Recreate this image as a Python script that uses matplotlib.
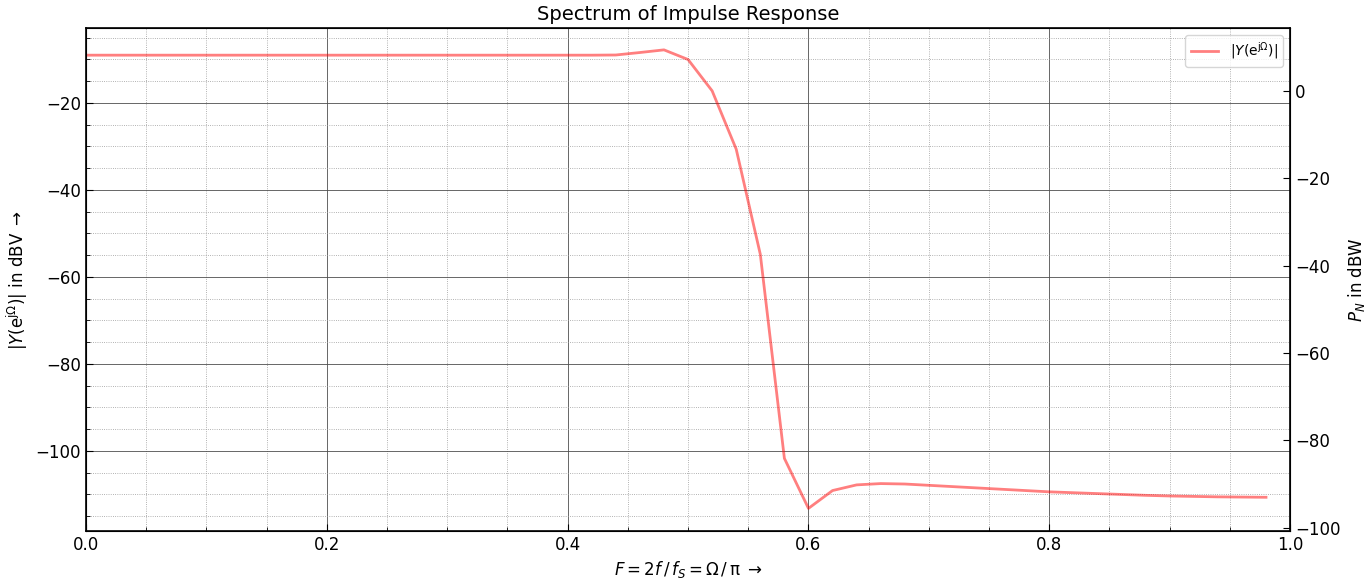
import numpy as np
import matplotlib.pyplot as plt
from matplotlib.ticker import MultipleLocator

# normalized frequency F = 2f/fs
freq = np.arange(0, 1.0, 0.02)

# magnitude in dBV
mag_db = [
    -9.04, -9.04, -9.04, -9.04, -9.04, -9.04, -9.04, -9.04, -9.04, -9.04,
    -9.04, -9.04, -9.04, -9.04, -9.04, -9.04, -9.04, -9.04, -9.04, -9.04,
    -9.04, -9.04, -9.0, -8.43, -7.82, -10.04, -17.24, -30.65, -54.8, -101.7,
    -113.2, -109.1, -107.8, -107.5, -107.6, -107.9, -108.2, -108.5, -108.8, -109.1,
    -109.4, -109.6, -109.8, -110.0, -110.2, -110.35, -110.45, -110.55, -110.6, -110.65,
]

left_ticks = [-20, -40, -60, -80, -100]
right_ticks = [0, -20, -40, -60, -80, -100]

fig = plt.figure(figsize=(13.72, 5.85), dpi=100)
ax = fig.add_axes([0.0627, 0.0923, 0.8776, 0.8598])

ax.plot(freq, mag_db, color='r', alpha=0.5, lw=2, label=r'$|Y(\mathrm{e}^{\mathrm{j}\Omega})|$')
ax.set_xlim(0, 1.0)
ax.set_ylim(-118.4, -2.8)
ax.set_yticks(left_ticks)
ax.xaxis.set_minor_locator(MultipleLocator(0.05))
ax.yaxis.set_minor_locator(MultipleLocator(5))
ax.grid(which='major', color='0.3', lw=0.6)
ax.grid(which='minor', color='0.6', lw=0.6, ls=':')
ax.tick_params(which='both', direction='in', labelsize=12)
ax.tick_params(which='major', length=5)
ax.tick_params(which='minor', length=3)
for s in ax.spines.values():
    s.set_linewidth(1.2)

ax.set_title('Spectrum of Impulse Response', fontsize=14)
ax.set_xlabel(r'$F = 2f\,/\,f_S = \Omega\,/\,\mathrm{π}$ $\rightarrow$', fontsize=12)
ax.set_ylabel(r'$|Y(\mathrm{e}^{\mathrm{j}\Omega})|$ in dBV $\rightarrow$', fontsize=12)
ax.legend(loc='upper right', fontsize=10)

ax2 = ax.twinx()
ax2.set_ylim(-100.8, 14.4)
ax2.set_yticks(right_ticks)
ax2.tick_params(direction='in', labelsize=12, length=5)
ax2.set_ylabel(r'$P_N$ in dBW', fontsize=12)

fig.savefig('out.png', dpi=100)
